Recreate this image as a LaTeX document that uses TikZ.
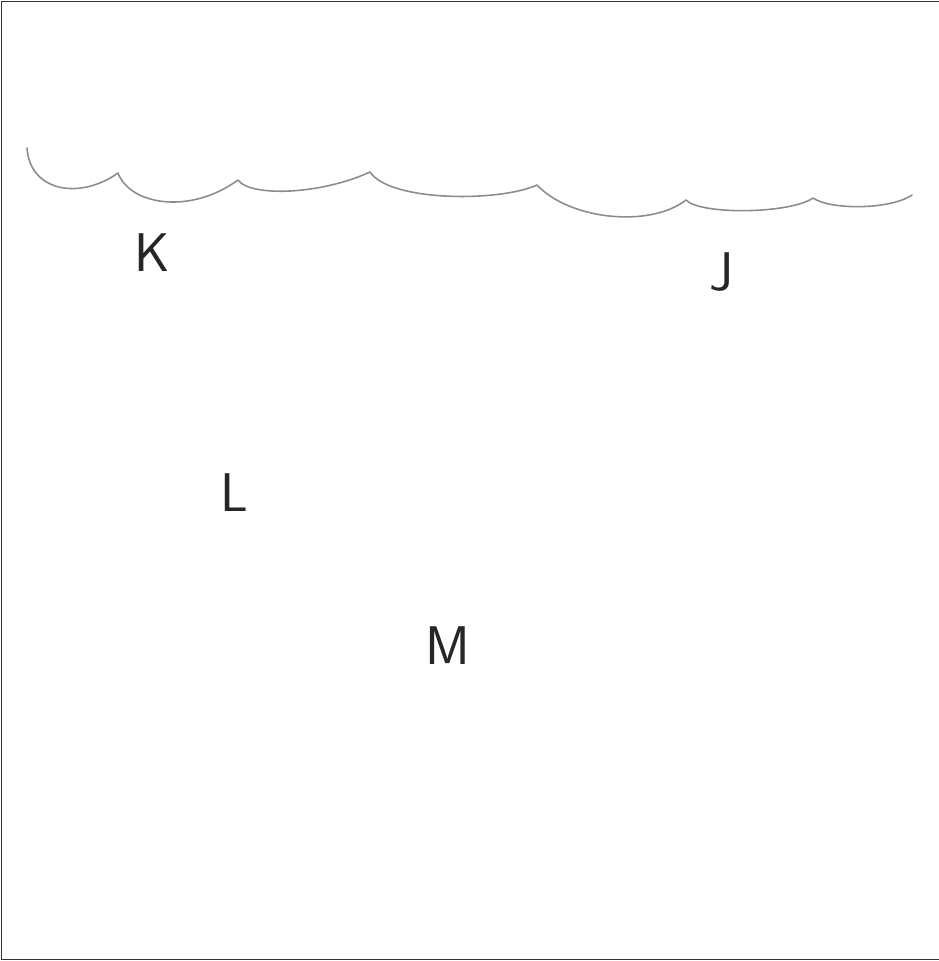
\documentclass[tikz,border=0pt]{standalone}
\usepackage{tikz}
\usetikzlibrary{positioning}

\begin{document}
\begin{tikzpicture}[x=0.02cm, y=-0.02cm,
    letter/.style={font=\fontsize{31}{31}\selectfont\sffamily, inner sep=0pt, text=black!85},
    frame/.style={draw=black!80, line width=1.1pt},
    shore/.style={draw=black!45, line width=0.9pt, line cap=round, line join=round}
]
    % page size and frame
    \useasboundingbox (0,0) rectangle (939,961);
    \draw[frame] (939,1.5) -- (1.5,1.5) -- (1.5,959.5) -- (939,959.5);

    % scalloped line near the top
    \draw[shore] (27,148) .. controls (30,192) and (80,200) .. (118,173)
        .. controls (130,205) and (190,215) .. (238,180)
        .. controls (250,197) and (320,195) .. (370,172)
        .. controls (390,202) and (500,202) .. (537,185)
        .. controls (570,220) and (650,228) .. (686,200)
        .. controls (700,215) and (790,214) .. (813,198)
        .. controls (830,210) and (890,210) .. (912,195);

    % letters
    \node[letter] (K) at (152,253) {K};
    \node[letter] (J) at (722,272) {J};
    \node[letter] (L) at (234,493) {L};
    \node[letter] (M) at (448,646) {M};

\end{tikzpicture}
\end{document}
